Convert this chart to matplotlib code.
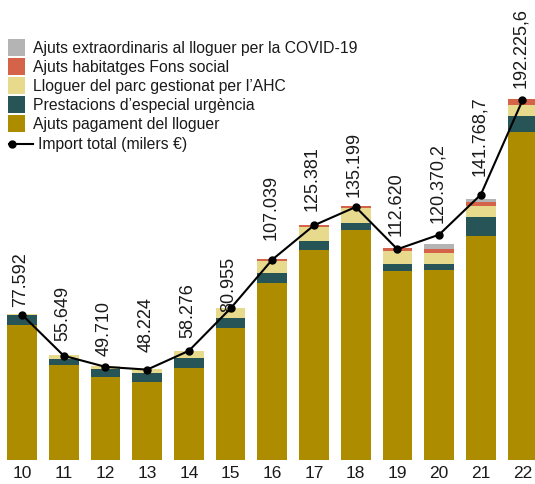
import matplotlib
matplotlib.use("Agg")
import matplotlib.pyplot as plt
from matplotlib.patches import Rectangle
from matplotlib.lines import Line2D
import numpy as np

plt.rcParams["font.family"] = ["Liberation Sans", "DejaVu Sans"]

# ---------------- Data (milers €) ----------------
years = ["10", "11", "12", "13", "14", "15", "16", "17", "18", "19", "20", "21", "22"]

ajuts_pagament = [72.2, 50.7, 44.3, 41.6, 49.1, 70.5, 94.7, 112.2, 122.9, 101.0, 101.5, 119.7, 175.5]
prestacions    = [5.2, 3.2, 4.3, 4.8, 5.3, 5.3, 5.2, 4.8, 3.7, 3.7, 3.2, 10.2, 8.4]
lloguer_ahc    = [0.5, 2.1, 1.6, 2.3, 3.9, 5.3, 6.4, 7.6, 8.0, 7.0, 5.9, 5.9, 5.9]
fons_social    = [0, 0, 0, 0, 0, 0, 1.1, 0.9, 1.1, 1.6, 2.1, 2.1, 3.2]
covid          = [0, 0, 0, 0, 0, 0, 0, 0, 0, 0, 2.7, 1.6, 0]

import_total = [77.592, 55.649, 49.710, 48.224, 58.276, 80.955, 107.039,
                125.381, 135.199, 112.620, 120.3702, 141.7687, 192.2256]
total_labels = ["77.592", "55.649", "49.710", "48.224", "58.276", "80.955", "107.039",
                "125.381", "135.199", "112.620", "120.370,2", "141.768,7", "192.225,6"]

series = [
    ("Ajuts pagament del lloguer", ajuts_pagament, "#AD8C00"),
    ("Prestacions d\u2019especial urg\u00e8ncia", prestacions, "#275457"),
    ("Lloguer del parc gestionat per l\u2019AHC", lloguer_ahc, "#E7DA8D"),
    ("Ajuts habitatges Fons social", fons_social, "#D5634A"),
    ("Ajuts extraordinaris al lloguer per la COVID-19", covid, "#B4B4B4"),
]

# gap between point and its label, in pixels
label_gap = [9, 16, 12, 19, 14, -3, 21, 15, 11, 14, 13, 20, 13]

# ---------------- Figure ----------------
W, H = 535, 485
fig = plt.figure(figsize=(W / 100, H / 100), dpi=100)
base_px = 460.8
ax = fig.add_axes([0, (H - base_px) / H, 1, base_px / H])

x = np.arange(len(years))
bottom = np.zeros(len(years))
for name, vals, col in series:
    ax.bar(x, vals, width=0.712, bottom=bottom, color=col, linewidth=0)
    bottom += np.array(vals)

ax.plot(x, import_total, color="black", lw=1.5, marker="o", ms=5, zorder=5)

for xi, v, lab, gap in zip(x, import_total, total_labels, label_gap):
    ax.annotate(lab, (xi, v), xytext=(-1, gap * 0.72), textcoords="offset points",
                rotation=90, ha="center", va="bottom", fontsize=13, color="#1a1a1a")

ax.set_xlim(-0.528, 12.30)
ax.set_ylim(0, base_px / 1.87)
ax.set_xticks(x)
ax.set_xticklabels(years, fontsize=12.5, color="#1a1a1a")
ax.tick_params(axis="x", length=0, pad=3.5)
ax.set_yticks([])
for s in ax.spines.values():
    s.set_visible(False)

# ---------------- Legend (drawn by hand) ----------------
def fx(px):
    return px / W

def fy(py):
    return 1 - py / H

row_y = [48.3, 67.3, 86.3, 105.3, 124.3]
sq = 16.5
for (name, vals, col), yc in zip(series[::-1], row_y):
    fig.add_artist(Rectangle((fx(8.3), fy(yc + sq / 2)), sq / W, sq / H,
                             transform=fig.transFigure, color=col, lw=0))
    fig.text(fx(33), fy(yc), name, fontsize=11.3, va="center", ha="left", color="#1a1a1a")

line_y = 145
fig.add_artist(Line2D([fx(9), fx(33)], [fy(line_y), fy(line_y)], color="black", lw=1.5,
                      transform=fig.transFigure))
fig.add_artist(Line2D([fx(11.7)], [fy(line_y)], marker="o", ms=5, color="black",
                      transform=fig.transFigure))
fig.text(fx(38), fy(line_y), "Import total (milers \u20ac)", fontsize=11.3, va="center",
         ha="left", color="#1a1a1a")

fig.savefig("out.png", dpi=100)
